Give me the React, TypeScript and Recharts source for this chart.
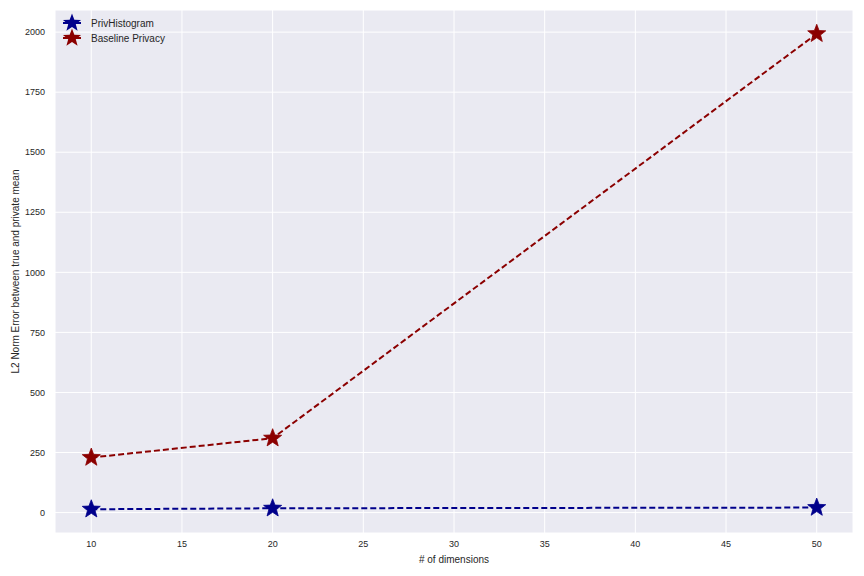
import { LineChart, Line, XAxis, YAxis, CartesianGrid } from "recharts";

const dims = [10, 20, 50];
const privHistogram = [13.8, 17.9, 20.8];
const baselinePrivacy = [229, 309.6, 1993];
const xTicks = [10, 15, 20, 25, 30, 35, 40, 45, 50];
const yTicks = [0, 250, 500, 750, 1000, 1250, 1500, 1750, 2000];

const series = [
  { key: "priv", name: "PrivHistogram", color: "#00008B" },
  { key: "base", name: "Baseline Privacy", color: "#8B0000" },
];

const data = dims.map((d, i) => ({ dim: d, priv: privHistogram[i], base: baselinePrivacy[i] }));

const FONT = "'Liberation Sans', Arial, sans-serif";

function starPath(cx: number, cy: number, R: number) {
  const r = R * 0.42;
  let p = "";
  for (let i = 0; i < 10; i++) {
    const rad = i % 2 === 0 ? R : r;
    const a = -Math.PI / 2 + (i * Math.PI) / 5;
    p += (i === 0 ? "M" : "L") + (cx + rad * Math.cos(a)).toFixed(2) + "," + (cy + rad * Math.sin(a)).toFixed(2);
  }
  return p + "Z";
}

const Star = (color: string) => (props: any) => {
  const { cx, cy } = props;
  if (cx == null || cy == null) return <g />;
  return <path d={starPath(cx, cy, 9.5)} fill={color} stroke={color} strokeWidth={0.8} />;
};

// legend drawn over the plot, top-left corner like matplotlib's "best" spot
function LegendBox() {
  return (
    <svg width={140} height={36} style={{ position: "absolute", left: 61, top: 14, overflow: "visible" }}>
      {series.map((s, i) => (
        <g key={s.key} transform={`translate(0, ${i * 15})`}>
          <line x1={2} x2={20} y1={9} y2={9} stroke={s.color} strokeWidth={2} />
          <path d={starPath(11, 9, 9.5)} fill={s.color} />
          <text x={30} y={12.5} fontSize={10} fill="#262626" fontFamily={FONT}>
            {s.name}
          </text>
        </g>
      ))}
    </svg>
  );
}

export default function App() {
  return (
    <div style={{ position: "absolute", left: 0, top: 0, width: 864, height: 576, background: "#fff" }}>
      <LineChart width={864} height={576} data={data} margin={{ top: 10, right: 11, left: 0, bottom: 20 }}>
        <CartesianGrid fill="#EAEAF2" stroke="#fff" strokeWidth={1} />
        <XAxis
          dataKey="dim"
          type="number"
          domain={[8, 52]}
          ticks={xTicks}
          axisLine={false}
          tickLine={false}
          height={23}
          tick={{ fill: "#262626", fontSize: 9, fontFamily: FONT }}
          label={{ value: "# of dimensions", position: "insideBottom", offset: -7, fill: "#262626", fontSize: 10, fontFamily: FONT }}
        />
        <YAxis
          type="number"
          domain={[-85, 2092]}
          ticks={yTicks}
          axisLine={false}
          tickLine={false}
          width={55}
          tickMargin={4}
          tick={{ fill: "#262626", fontSize: 9, fontFamily: FONT }}
          label={{
            value: "L2 Norm Error between true and private mean",
            angle: -90,
            position: "insideLeft",
            dx: 10,
            style: { textAnchor: "middle" },
            fill: "#262626",
            fontSize: 10,
            fontFamily: FONT,
          }}
        />
        {series.map((s) => (
          <Line
            key={s.key}
            dataKey={s.key}
            name={s.name}
            stroke={s.color}
            strokeWidth={2}
            strokeDasharray="6 3"
            dot={Star(s.color)}
            activeDot={false}
            isAnimationActive={false}
          />
        ))}
      </LineChart>
      <LegendBox />
    </div>
  );
}
